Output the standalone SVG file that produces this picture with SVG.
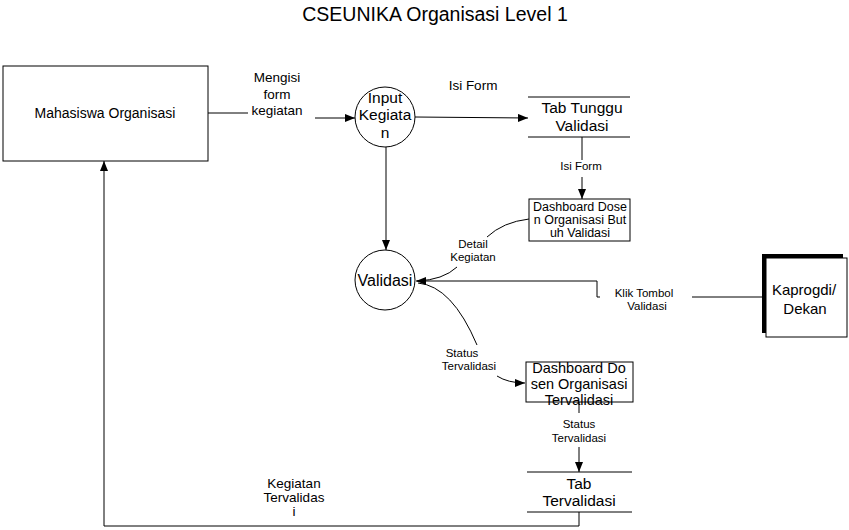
<svg xmlns="http://www.w3.org/2000/svg" width="849" height="530" viewBox="0 0 849 530">
<defs>
<marker id="arr" viewBox="0 0 10 8" refX="10" refY="4" markerWidth="10" markerHeight="8" markerUnits="userSpaceOnUse" orient="auto">
<path d="M0,0 L10,4 L0,8 Z" fill="#000"/>
</marker>
</defs>
<style>
text{font-family:"Liberation Sans",Arial,sans-serif;fill:#000;text-anchor:middle}
.box{fill:#fff;stroke:#000;stroke-width:1}
.ln{fill:none;stroke:#000;stroke-width:1}
.s12{font-size:11.5px}
.s13{font-size:13.5px}
.s15{font-size:15.5px}
</style>
<rect width="849" height="530" fill="#fff"/>
<text x="435" y="21" style="font-size:19.5px">CSEUNIKA Organisasi Level 1</text>

<g id="connectors">
<path class="ln" d="M208,113 L248,113"/>
<path class="ln" d="M315,118 L355,118" marker-end="url(#arr)"/>
<path class="ln" d="M415,117 L528,118" marker-end="url(#arr)"/>
<path class="ln" d="M582,137 L582,160"/>
<path class="ln" d="M582,177 L582,199" marker-end="url(#arr)"/>
<path class="ln" d="M386,147 L386,250" marker-end="url(#arr)"/>
<path class="ln" d="M529,219 Q503,222 487,237"/>
<path class="ln" d="M457,267 Q443,280 417,281"/>
<path class="ln" d="M762,297 L692,297"/>
<path class="ln" d="M600,297 L597,297 L597,281 L416,281" marker-end="url(#arr)"/>
<path class="ln" d="M418,283 Q452,286 477,345"/>
<path class="ln" d="M497,376 Q508,383 525,383" marker-end="url(#arr)"/>
<path class="ln" d="M579,402 L579,413"/>
<path class="ln" d="M579,447 L579,472" marker-end="url(#arr)"/>
<path class="ln" d="M579,512 L579,526 L104,526 L104,161" marker-end="url(#arr)"/>
</g>

<g id="labels">
<text class="s13" x="277" y="82">Mengisi</text>
<text class="s13" x="277" y="99">form</text>
<text class="s13" x="277" y="115">kegiatan</text>
<text class="s13" x="473" y="90">Isi Form</text>
<text class="s12" x="581" y="170">Isi Form</text>
<text class="s12" x="473" y="248">Detail</text>
<text class="s12" x="473" y="261">Kegiatan</text>
<text class="s12" x="644" y="297">Klik Tombol</text>
<text class="s12" x="647" y="310">Validasi</text>
<text class="s12" x="462" y="357">Status</text>
<text class="s12" x="469" y="370">Tervalidasi</text>
<text class="s12" x="579" y="428">Status</text>
<text class="s12" x="579" y="442">Tervalidasi</text>
<text class="s13" x="294" y="488">Kegiatan</text>
<text class="s13" x="294" y="502">Tervalidas</text>
<text class="s13" x="294" y="516">i</text>
</g>

<g id="mahasiswa">
<rect class="box" x="3" y="66" width="205" height="95"/>
<text x="105" y="118" style="font-size:14px">Mahasiswa Organisasi</text>
</g>

<g id="input-kegiatan">
<circle class="box" cx="385" cy="117" r="30"/>
<text class="s15" x="385" y="103">Input</text>
<text class="s15" x="385" y="120">Kegiata</text>
<text class="s15" x="385" y="138">n</text>
</g>

<g id="tab-tunggu">
<path class="ln" d="M528,97 L630,97 M528,137 L630,137"/>
<text class="s15" x="582" y="113">Tab Tunggu</text>
<text class="s15" x="582" y="131">Validasi</text>
</g>

<g id="dashboard-butuh">
<rect class="box" x="529" y="199" width="101" height="42"/>
<text x="580" y="211" style="font-size:12.5px">Dashboard Dose</text>
<text x="580" y="224" style="font-size:12.5px">n Organisasi But</text>
<text x="580" y="237" style="font-size:12.5px">uh Validasi</text>
</g>

<g id="validasi">
<circle class="box" cx="385" cy="280" r="30"/>
<text x="385" y="286" style="font-size:16px">Validasi</text>
</g>

<g id="kaprogdi">
<rect x="762" y="254" width="81" height="79" fill="#000"/>
<rect class="box" x="766" y="258" width="81" height="79"/>
<text x="804" y="295" style="font-size:15px">Kaprogdi/</text>
<text x="805" y="314" style="font-size:15px">Dekan</text>
</g>

<g id="dashboard-tervalidasi">
<rect class="box" x="526" y="362" width="107" height="40"/>
<text x="579" y="373" style="font-size:14.5px">Dashboard Do</text>
<text x="579" y="389" style="font-size:14.5px">sen Organisasi</text>
<text x="579" y="405" style="font-size:14.5px">Tervalidasi</text>
</g>

<g id="tab-tervalidasi">
<path class="ln" d="M527,472 L632,472 M527,512 L632,512"/>
<text class="s15" x="579" y="489">Tab</text>
<text class="s15" x="579" y="506">Tervalidasi</text>
</g>
</svg>
